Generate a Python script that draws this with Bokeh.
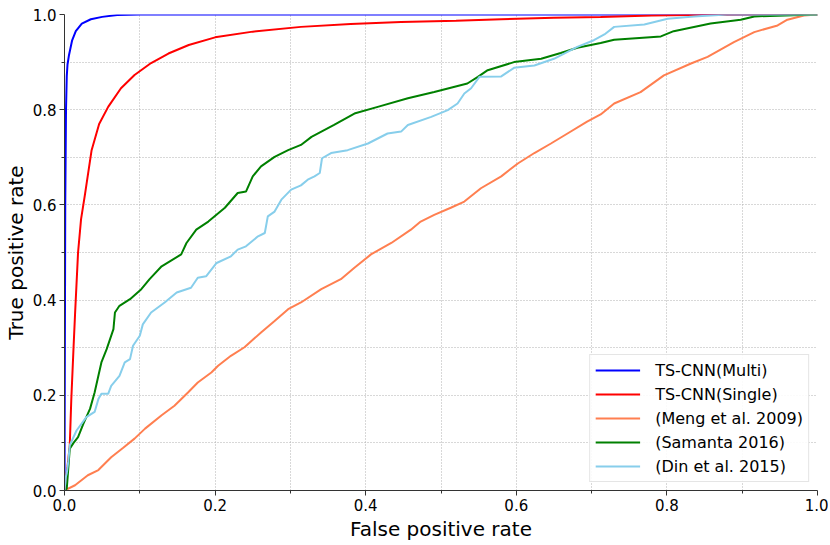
from bokeh.plotting import figure
from bokeh.models import Range1d, FixedTicker, Legend, LegendItem, PrintfTickFormatter
from bokeh.embed import file_html
from bokeh.resources import INLINE

# --- data ---
multi_fpr = [0.0, 0.0005, 0.001, 0.002, 0.003, 0.004, 0.006, 0.010, 0.015, 0.023, 0.035, 0.050, 0.070, 0.100, 1.0]
multi_tpr = [0.0, 0.30, 0.60, 0.80, 0.87, 0.895, 0.915, 0.945, 0.965, 0.981, 0.990, 0.995, 0.999, 1.0, 1.0]

single_fpr = [0.0, 0.004, 0.007, 0.009, 0.012, 0.014, 0.018, 0.022, 0.027, 0.036, 0.046, 0.058, 0.075, 0.093,
              0.115, 0.138, 0.165, 0.200, 0.250, 0.314, 0.380, 0.447, 0.520, 0.580, 0.650, 0.712, 0.780, 0.830, 0.900, 1.0]
single_tpr = [0.0, 0.050, 0.095, 0.190, 0.300, 0.370, 0.500, 0.570, 0.620, 0.715, 0.770, 0.806, 0.845, 0.873,
              0.898, 0.918, 0.936, 0.952, 0.964, 0.974, 0.980, 0.984, 0.987, 0.990, 0.993, 0.995, 0.998, 0.999, 1.0, 1.0]

meng_fpr = [0.0, 0.014, 0.031, 0.045, 0.062, 0.078, 0.093, 0.107, 0.129, 0.146, 0.164, 0.177, 0.195, 0.204, 0.221,
            0.239, 0.261, 0.279, 0.297, 0.314, 0.341, 0.367, 0.385, 0.407, 0.434, 0.460, 0.473, 0.491, 0.513, 0.531,
            0.553, 0.580, 0.602, 0.624, 0.646, 0.668, 0.694, 0.712, 0.730, 0.765, 0.796, 0.832, 0.854, 0.889, 0.916,
            0.947, 0.960, 0.982, 1.0]
meng_tpr = [0.0, 0.011, 0.032, 0.043, 0.070, 0.090, 0.109, 0.130, 0.158, 0.178, 0.206, 0.227, 0.248, 0.262, 0.283,
            0.301, 0.332, 0.356, 0.381, 0.395, 0.423, 0.444, 0.468, 0.496, 0.520, 0.548, 0.565, 0.579, 0.594, 0.607,
            0.635, 0.660, 0.687, 0.709, 0.729, 0.750, 0.775, 0.790, 0.813, 0.837, 0.872, 0.897, 0.911, 0.942, 0.963,
            0.977, 0.989, 0.998, 1.0]

samanta_fpr = [0.0, 0.003, 0.007, 0.012, 0.018, 0.025, 0.034, 0.040, 0.045, 0.049, 0.056, 0.065, 0.067, 0.073,
               0.087, 0.102, 0.113, 0.129, 0.155, 0.162, 0.175, 0.191, 0.213, 0.230, 0.241, 0.250, 0.261, 0.279,
               0.297, 0.314, 0.328, 0.358, 0.385, 0.416, 0.456, 0.491, 0.535, 0.549, 0.562, 0.597, 0.633, 0.659,
               0.681, 0.712, 0.730, 0.792, 0.809, 0.858, 0.898, 0.916, 1.0]
samanta_tpr = [0.0, 0.004, 0.088, 0.100, 0.112, 0.140, 0.172, 0.206, 0.241, 0.269, 0.297, 0.339, 0.374, 0.388,
               0.402, 0.423, 0.444, 0.471, 0.496, 0.520, 0.548, 0.565, 0.594, 0.625, 0.628, 0.660, 0.681, 0.701,
               0.715, 0.726, 0.743, 0.768, 0.792, 0.806, 0.824, 0.837, 0.855, 0.869, 0.883, 0.900, 0.907, 0.919,
               0.930, 0.940, 0.947, 0.954, 0.965, 0.981, 0.989, 0.996, 1.0]

din_fpr = [0.0, 0.002, 0.003, 0.005, 0.007, 0.016, 0.029, 0.040, 0.045, 0.049, 0.058, 0.062, 0.073, 0.080, 0.087,
           0.091, 0.100, 0.104, 0.115, 0.133, 0.149, 0.168, 0.177, 0.188, 0.202, 0.221, 0.230, 0.241, 0.257, 0.266,
           0.270, 0.279, 0.288, 0.301, 0.314, 0.323, 0.332, 0.339, 0.342, 0.354, 0.376, 0.403, 0.429, 0.447, 0.456,
           0.487, 0.509, 0.522, 0.531, 0.540, 0.551, 0.580, 0.597, 0.624, 0.650, 0.681, 0.703, 0.717, 0.730, 0.770,
           0.801, 0.836, 0.880, 1.0]
din_tpr = [0.0, 0.030, 0.036, 0.060, 0.095, 0.126, 0.154, 0.165, 0.192, 0.203, 0.203, 0.220, 0.241, 0.269, 0.276,
           0.304, 0.325, 0.349, 0.374, 0.395, 0.416, 0.426, 0.447, 0.450, 0.478, 0.492, 0.506, 0.513, 0.534, 0.541,
           0.576, 0.586, 0.611, 0.632, 0.641, 0.653, 0.660, 0.667, 0.698, 0.709, 0.715, 0.729, 0.750, 0.754, 0.768,
           0.785, 0.799, 0.813, 0.834, 0.845, 0.869, 0.870, 0.888, 0.893, 0.907, 0.932, 0.946, 0.958, 0.974, 0.979,
           0.991, 0.996, 1.0, 1.0]

series_names = ["TS-CNN(Multi)", "TS-CNN(Single)", "(Meng et al. 2009)", "(Samanta 2016)", "(Din et al. 2015)"]
series_colors = ["#0000ff", "#ff0000", "#ff7f50", "#008000", "#87ceeb"]
series_x = [multi_fpr, single_fpr, meng_fpr, samanta_fpr, din_fpr]
series_y = [multi_tpr, single_tpr, meng_tpr, samanta_tpr, din_tpr]

major_ticks = [0.0, 0.2, 0.4, 0.6, 0.8, 1.0]
minor_ticks = [0.1, 0.3, 0.5, 0.7, 0.9]

FONT = "DejaVu Sans"

p = figure(width=828, height=543, output_backend="svg", toolbar_location=None,
           x_range=Range1d(0, 1), y_range=Range1d(0, 1),
           min_border_left=63, min_border_right=11, min_border_top=14, min_border_bottom=51)
p.outline_line_color = None
p.background_fill_color = "white"

items = []
for name, col, xs, ys in zip(series_names, series_colors, series_x, series_y):
    r = p.line(xs, ys, line_color=col, line_width=2)
    items.append(LegendItem(label=name, renderers=[r]))

for ax in (p.xaxis[0], p.yaxis[0]):
    ax.ticker = FixedTicker(ticks=major_ticks, minor_ticks=minor_ticks)
    ax.formatter = PrintfTickFormatter(format="%.1f")
    ax.major_label_text_font = FONT
    ax.major_label_text_font_size = "15px"
    ax.major_label_text_color = "black"
    ax.axis_label_text_font = FONT
    ax.axis_label_text_font_size = "20px"
    ax.axis_label_text_font_style = "normal"
    ax.axis_label_text_color = "black"
    ax.axis_line_color = "#333333"
    ax.axis_line_width = 1
    ax.major_tick_line_color = "#333333"
    ax.minor_tick_line_color = "#333333"
    ax.major_tick_out = 5
    ax.major_tick_in = 0
    ax.minor_tick_out = 3
    ax.minor_tick_in = 0

p.xaxis.axis_label = "False positive rate"
p.yaxis.axis_label = "True positive rate"
p.xaxis.major_label_standoff = 3
p.xaxis.axis_label_standoff = 3
p.yaxis.major_label_standoff = 3
p.yaxis.axis_label_standoff = 2

for g in (p.xgrid[0], p.ygrid[0]):
    g.ticker = FixedTicker(ticks=major_ticks, minor_ticks=minor_ticks)
    g.grid_line_color = "#b0b0b0"
    g.grid_line_dash = "1 2"
    g.grid_line_width = 1
    g.minor_grid_line_color = "#b0b0b0"
    g.minor_grid_line_dash = "1 2"
    g.minor_grid_line_width = 1

legend = Legend(items=items, location="bottom_right")
legend.label_text_font = FONT
legend.label_text_font_size = "16px"
legend.label_text_color = "black"
legend.border_line_color = "#cccccc"
legend.border_line_width = 1
legend.background_fill_color = "white"
legend.background_fill_alpha = 0.9
legend.glyph_width = 45
legend.glyph_height = 20
legend.label_height = 20
legend.label_standoff = 15
legend.spacing = 4
legend.padding = 5
legend.margin = 8
p.add_layout(legend)

open("out.html", "w").write(file_html(p, INLINE))
